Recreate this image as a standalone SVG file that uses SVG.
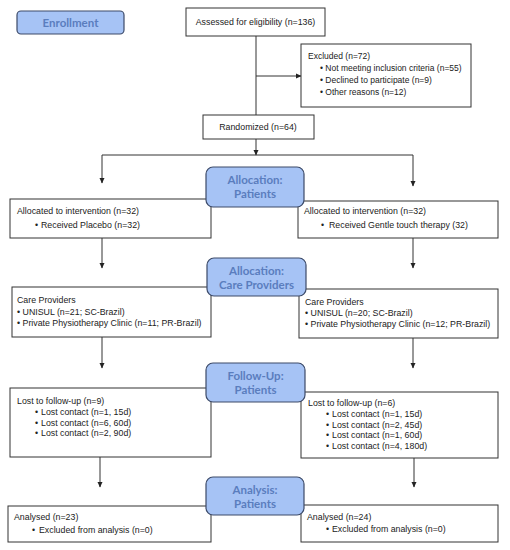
<svg xmlns="http://www.w3.org/2000/svg" width="510" height="550" viewBox="0 0 510 550">
<defs>
<marker id="arr" markerWidth="6" markerHeight="6" refX="5" refY="3" orient="auto" markerUnits="userSpaceOnUse">
<path d="M0,0.5 L5.5,3 L0,5.5 z" fill="#222"/>
</marker>
<style>
.box{fill:#fff;stroke:#333;stroke-width:1}
.lab{fill:#a6c3f5;stroke:#3c4a68;stroke-width:1.2}
.lt{font-family:Lato,"Open Sans",sans-serif;font-weight:bold;font-size:11.5px;fill:#5a7dbe;text-anchor:middle}
.t{font-family:"Liberation Sans",Arial,sans-serif;font-size:8.8px;fill:#222}
.s{font-size:8.5px}
.c{fill:none;stroke:#333;stroke-width:1}
.ca{fill:none;stroke:#333;stroke-width:1;marker-end:url(#arr)}
</style>
</defs>
<rect width="510" height="550" fill="#fff"/>

<g id="connectors">
<line class="c" x1="256" y1="36" x2="256" y2="115"/>
<line class="ca" x1="256" y1="76" x2="301" y2="76"/>
<line class="ca" x1="256" y1="139" x2="256" y2="155"/>
<polyline class="c" points="102,155 413,155"/>
<line class="ca" x1="102" y1="155" x2="102" y2="183"/>
<line class="ca" x1="413" y1="155" x2="413" y2="186"/>
<line class="ca" x1="102" y1="238" x2="102" y2="268"/>
<line class="ca" x1="413" y1="238" x2="413" y2="268"/>
<line class="ca" x1="102" y1="337" x2="102" y2="368"/>
<line class="ca" x1="413" y1="338" x2="413" y2="368"/>
<line class="ca" x1="100" y1="457" x2="100" y2="487"/>
<line class="ca" x1="414" y1="458" x2="414" y2="487"/>
</g>

<g id="assessed">
<rect class="box" x="186" y="8" width="139" height="28"/>
<text class="t" x="255.5" y="25" text-anchor="middle">Assessed for eligibility (n=136)</text>
</g>

<g id="excluded">
<rect class="box" x="301" y="44" width="170" height="63"/>
<text class="t s" x="308" y="59">Excluded (n=72)</text>
<text class="t s" x="320" y="71">• Not meeting inclusion criteria (n=55)</text>
<text class="t s" x="320" y="83">• Declined to participate (n=9)</text>
<text class="t s" x="320" y="95">• Other reasons (n=12)</text>
</g>

<g id="randomized">
<rect class="box" x="203" y="115" width="111" height="24"/>
<text class="t" x="258" y="130" text-anchor="middle">Randomized (n=64)</text>
</g>

<g id="alloc-left">
<rect class="box" x="10" y="199" width="201" height="39"/>
<text class="t" x="17" y="214">Allocated to intervention (n=32)</text>
<text class="t" x="35" y="228">•</text>
<text class="t" x="41" y="228">Received Placebo (n=32)</text>
</g>

<g id="alloc-right">
<rect class="box" x="298" y="201" width="200" height="37"/>
<text class="t" x="304" y="214">Allocated to intervention (n=32)</text>
<text class="t" x="321" y="228">•</text>
<text class="t" x="329" y="228">Received Gentle touch therapy (32)</text>
</g>

<g id="care-left">
<rect class="box" x="12" y="287" width="199" height="50"/>
<text class="t" x="17" y="303">Care Providers</text>
<text class="t" x="17" y="315">• UNISUL (n=21; SC-Brazil)</text>
<text class="t" x="17" y="326">• Private Physiotherapy Clinic (n=11; PR-Brazil)</text>
</g>

<g id="care-right">
<rect class="box" x="299" y="289" width="199" height="49"/>
<text class="t" x="305" y="305">Care Providers</text>
<text class="t" x="305" y="316">• UNISUL (n=20; SC-Brazil)</text>
<text class="t" x="305" y="327">• Private Physiotherapy Clinic (n=12; PR-Brazil)</text>
</g>

<g id="follow-left">
<rect class="box" x="10" y="388" width="201" height="69"/>
<text class="t" x="17" y="404">Lost to follow-up (n=9)</text>
<text class="t" x="35" y="415">•</text><text class="t" x="41" y="415">Lost contact (n=1, 15d)</text>
<text class="t" x="35" y="425.5">•</text><text class="t" x="41" y="425.5">Lost contact (n=6, 60d)</text>
<text class="t" x="35" y="436">•</text><text class="t" x="41" y="436">Lost contact (n=2, 90d)</text>
</g>

<g id="follow-right">
<rect class="box" x="301" y="392" width="197" height="66"/>
<text class="t" x="308" y="406">Lost to follow-up (n=6)</text>
<text class="t" x="326" y="417">•</text><text class="t" x="332" y="417">Lost contact (n=1, 15d)</text>
<text class="t" x="326" y="427.5">•</text><text class="t" x="332" y="427.5">Lost contact (n=2, 45d)</text>
<text class="t" x="326" y="438">•</text><text class="t" x="332" y="438">Lost contact (n=1, 60d)</text>
<text class="t" x="326" y="448.5">•</text><text class="t" x="332" y="448.5">Lost contact (n=4, 180d)</text>
</g>

<g id="analysed-left">
<rect class="box" x="8" y="506" width="203" height="36"/>
<text class="t" x="14" y="520">Analysed (n=23)</text>
<text class="t" x="32" y="533">•</text><text class="t" x="39" y="533">Excluded from analysis (n=0)</text>
</g>

<g id="analysed-right">
<rect class="box" x="301" y="505" width="197" height="37"/>
<text class="t" x="307" y="520">Analysed (n=24)</text>
<text class="t" x="326" y="532">•</text><text class="t" x="332" y="532">Excluded from analysis (n=0)</text>
</g>

<g id="label-enrollment">
<rect class="lab" x="17" y="11" width="107" height="23" rx="4"/>
<text class="lt" x="70.5" y="26.5">Enrollment</text>
</g>

<g id="label-alloc-patients">
<rect class="lab" x="206" y="167" width="98" height="40" rx="7"/>
<text class="lt" x="255" y="184">Allocation:</text>
<text class="lt" x="255" y="198">Patients</text>
</g>

<g id="label-alloc-care">
<rect class="lab" x="207" y="258" width="99" height="38" rx="7"/>
<text class="lt" x="256.5" y="275">Allocation:</text>
<text class="lt" x="256.5" y="289">Care Providers</text>
</g>

<g id="label-follow">
<rect class="lab" x="206" y="363" width="99" height="39" rx="7"/>
<text class="lt" x="255.5" y="380">Follow-Up:</text>
<text class="lt" x="255.5" y="394">Patients</text>
</g>

<g id="label-analysis">
<rect class="lab" x="206" y="477" width="98" height="38" rx="7"/>
<text class="lt" x="255" y="494">Analysis:</text>
<text class="lt" x="255" y="508">Patients</text>
</g>
</svg>
